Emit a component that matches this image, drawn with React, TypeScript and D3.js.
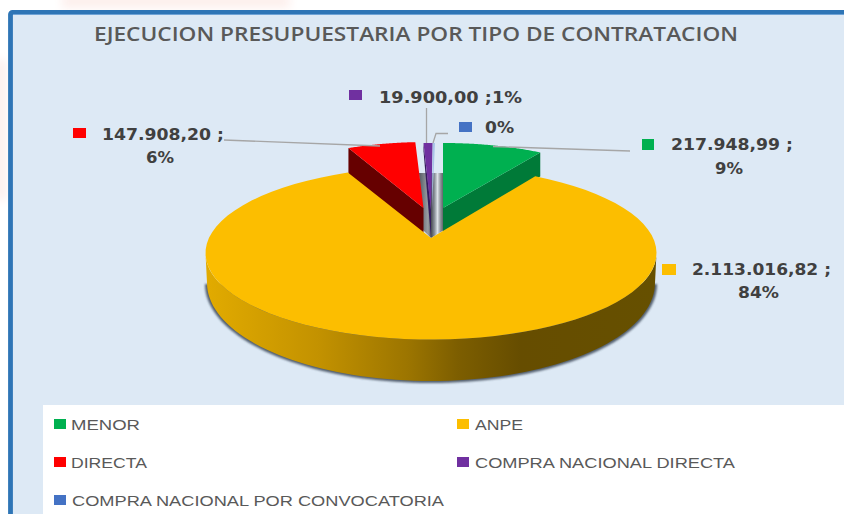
import React from "react";
import * as d3 from "d3";

// chart data
const categories = ["MENOR", "ANPE", "DIRECTA", "COMPRA NACIONAL DIRECTA", "COMPRA NACIONAL POR CONVOCATORIA"];
const amounts = [217948.99, 2113016.82, 147908.2, 19900, 5000];
const colors = ["#00B050", "#FCBE00", "#FF0000", "#7030A0", "#4472C4"];
const sideColors = ["#007A38", "#6A5000", "#660000", "#351B5E", "#A9C4E8"];

const title = "EJECUCION PRESUPUESTARIA POR TIPO DE CONTRATACION";

const width = 844;
const height = 514;
const rad = (deg: number) => (deg * Math.PI) / 180;

// each slice is exploded and foreshortened on its own
// ax/ay = tip of the wedge, cx/cy = centre of the rim ellipse
const sliceGeom = [
  { ax: 443, ay: 208, cx: 443, cy: 208, rx: 187, ry: 65, trim: [0, 0], depth: 24 },
  { ax: 431, ay: 238, cx: 431, cy: 253, rx: 225.5, ry: 86.5, trim: [-3.8, 3.2], depth: 0 },
  { ax: 423.5, ay: 208, cx: 427, cy: 208, rx: 187, ry: 66, trim: [0, 0], depth: 26 },
  { ax: 431, ay: 210, cx: 435, cy: 208, rx: 184, ry: 65, trim: [0, 0], depth: 28 },
  { ax: 432, ay: 208, cx: 435, cy: 208, rx: 184, ry: 65, trim: [0, 0], depth: 0 },
];

// label block for each slice
const labelGeom = [
  { sw: [642, 139, 12, 11], x: 671, w: 122, y: 150, px: 715, pw: 28, py: 174, mode: "two" },
  { sw: [662, 264, 14, 11], x: 692, w: 139, y: 275, px: 738, pw: 41, py: 298, mode: "two" },
  { sw: [73, 128, 13, 10], x: 102, w: 122, y: 140, px: 146, pw: 28, py: 163, mode: "two" },
  { sw: [349, 90, 13, 10], x: 379, w: 143, y: 103, px: 0, pw: 0, py: 0, mode: "inline" },
  { sw: [459, 122, 13, 10], x: 485, w: 29, y: 133, px: 0, pw: 0, py: 0, mode: "pct" },
];

const legendGeom = [
  { x: 54, y: 419, tx: 71, tw: 69, ty: 430 },
  { x: 457, y: 419, tx: 475, tw: 48, ty: 430 },
  { x: 54, y: 457, tx: 71, tw: 76, ty: 468 },
  { x: 457, y: 457, tx: 475, tw: 260, ty: 468 },
  { x: 54, y: 495, tx: 72, tw: 372, ty: 506 },
];

const leaders = [
  [[493, 146.5], [630, 151]],
  [[224, 140], [380, 146]],
  [[426.5, 108], [426.5, 143]],
  [[433, 143], [436, 133.5], [448, 133.5]],
];

const esLocale = d3.formatLocale({ decimal: ",", thousands: ".", grouping: [3], currency: ["", ""] });
const fmtAmount = esLocale.format(",.2f");
const fmtPct = d3.format(".0%");
const total = d3.sum(amounts);

const pie = d3.pie<number>().sort(null).value((d) => d);
const slices = pie(amounts);

const line = d3.line();

function rimPoint(g: (typeof sliceGeom)[number], a: number): [number, number] {
  return [g.cx + g.rx * Math.sin(a), g.cy - g.ry * Math.cos(a)];
}

function rimArc(g: (typeof sliceGeom)[number], a0: number, a1: number): [number, number][] {
  return d3.range(0, 81).map((i) => rimPoint(g, a0 + ((a1 - a0) * i) / 80));
}

function sliceAngles(i: number): [number, number] {
  const g = sliceGeom[i];
  return [slices[i].startAngle + rad(g.trim[0]), slices[i].endAngle + rad(g.trim[1])];
}

function topFace(i: number) {
  const g = sliceGeom[i];
  const [a0, a1] = sliceAngles(i);
  return line([[g.ax, g.ay], ...rimArc(g, a0, a1)]) + "Z";
}

// flat wall of a wedge, from the tip to one end of the rim
function sideWall(i: number, a: number, rimDepth: number, tipDepth: number) {
  const g = sliceGeom[i];
  const p = rimPoint(g, a);
  return line([[g.ax, g.ay], p, [p[0], p[1] + rimDepth], [g.ax, g.ay + tipDepth]]) + "Z";
}

// curved wall under the big slice, the lower edge is a second ellipse
const yellow = sliceGeom[1];
const yellowBase = { ...yellow, cx: 431, cy: 283, rx: 224, ry: 98 };
const yellowWall =
  line([
    ...rimArc(yellow, rad(90), rad(270)),
    ...rimArc(yellowBase, rad(270), rad(90)),
  ]) + "Z";
// shadow only hangs below the base, no need for the upper part
const yellowShadow = line(rimArc({ ...yellowBase, rx: 226, ry: 99 }, rad(90), rad(270))) + "Z";

const App = () => {
  return (
    <svg
      width={width}
      height={height}
      style={{ position: "absolute", left: 0, top: 0 }}
      viewBox={`0 0 ${width} ${height}`}
    >
      <defs>
        <linearGradient id="wallGrad" gradientUnits="userSpaceOnUse" x1="205" x2="656" y1="0" y2="0">
          <stop offset="0" stopColor="#E2AB00" />
          <stop offset="0.25" stopColor="#C39200" />
          <stop offset="0.45" stopColor="#9C7500" />
          <stop offset="0.56" stopColor="#7D5E00" />
          <stop offset="0.7" stopColor="#664D00" />
          <stop offset="1" stopColor="#665000" />
        </linearGradient>
        <linearGradient id="coreGrad" gradientUnits="userSpaceOnUse" x1="419" x2="444" y1="0" y2="0">
          <stop offset="0" stopColor="#555A62" />
          <stop offset="0.2" stopColor="#7C8188" />
          <stop offset="0.36" stopColor="#9A9EA4" />
          <stop offset="0.5" stopColor="#50545C" />
          <stop offset="0.62" stopColor="#8A9099" />
          <stop offset="0.74" stopColor="#DCE1E6" />
          <stop offset="0.86" stopColor="#8F949B" />
          <stop offset="1" stopColor="#4D5258" />
        </linearGradient>
        <filter id="soft" x="-10%" y="-20%" width="120%" height="140%">
          <feGaussianBlur stdDeviation="1.3" />
        </filter>
        <filter id="bgBlur" x="-20%" y="-20%" width="140%" height="140%">
          <feGaussianBlur stdDeviation="5" />
        </filter>
      </defs>

      {/* page behind the chart */}
      <rect width={width} height={height} fill="#fff" />
      <rect x={62} y={-6} width={228} height={14} fill="#FDEFEC" filter="url(#bgBlur)" />
      <rect x={-6} y={60} width={13} height={140} fill="#FDF0EE" filter="url(#bgBlur)" />

      {/* frame */}
      <rect x={10.5} y={12.3} width={width + 20} height={height + 20} rx={2} fill="#DDE9F5" stroke="#2E75B6" strokeWidth={4.8} />
      <line x1={13} x2={width} y1={14.5} y2={14.5} stroke="#6FA3D6" strokeWidth={1} />

      <text
        x={94}
        y={41}
        textLength={644}
        lengthAdjust="spacingAndGlyphs"
        fontFamily="'Open Sans', sans-serif"
        fontWeight={600}
        fontSize={19}
        fill="#595959"
      >
        {title}
      </text>

      {/* legend box */}
      <rect x={43} y={405} width={width - 43} height={height - 405} fill="#fff" />
      {categories.map((c, i) => {
        const l = legendGeom[i];
        return (
          <g key={c}>
            <rect x={l.x} y={l.y} width={12} height={10} fill={colors[i]} />
            <text
              x={l.tx}
              y={l.ty}
              textLength={l.tw}
              lengthAdjust="spacingAndGlyphs"
              fontFamily="'Liberation Sans', sans-serif"
              fontSize={15}
              fill="#595959"
            >
              {c}
            </text>
          </g>
        );
      })}

      {/* pie */}
      <path d={yellowShadow} fill="#3B4656" filter="url(#soft)" transform="translate(0,1)" opacity={0.85} />
      <path d="M419,173H444V230L431,238L423,230Z" fill="url(#coreGrad)" />

      <path d={sideWall(0, sliceAngles(0)[1], sliceGeom[0].depth, sliceGeom[0].depth)} fill={sideColors[0]} />
      <path d={topFace(0)} fill={colors[0]} />

      <path d={sideWall(2, sliceAngles(2)[0], sliceGeom[2].depth, sliceGeom[2].depth)} fill={sideColors[2]} />
      <path d={topFace(2)} fill={colors[2]} />

      <path d={sideWall(3, sliceAngles(3)[0], 8, sliceGeom[3].depth)} fill={sideColors[3]} />
      <path d={topFace(3)} fill={colors[3]} />
      <path d={topFace(4)} fill={sideColors[4]} />

      <path d={yellowWall} fill="url(#wallGrad)" />
      <path d={topFace(1)} fill={colors[1]} />

      {/* leader lines */}
      {leaders.map((pts, i) => (
        <path key={i} d={line(pts as [number, number][]) as string} fill="none" stroke="#A6A6A6" strokeWidth={1.3} />
      ))}

      {/* data labels */}
      {labelGeom.map((l, i) => {
        const amount = fmtAmount(amounts[i]);
        const pct = fmtPct(amounts[i] / total);
        const first = l.mode === "two" ? `${amount} ;` : l.mode === "inline" ? `${amount} ;${pct}` : pct;
        const textProps = {
          lengthAdjust: "spacingAndGlyphs",
          fontFamily: "'DejaVu Sans', sans-serif",
          fontWeight: 700,
          fontSize: 16,
          fill: "#404040",
        };
        return (
          <g key={categories[i]}>
            <rect x={l.sw[0]} y={l.sw[1]} width={l.sw[2]} height={l.sw[3]} fill={colors[i]} />
            <text x={l.x} y={l.y} textLength={l.w} {...textProps}>
              {first}
            </text>
            {l.mode === "two" && (
              <text x={l.px} y={l.py} textLength={l.pw} {...textProps}>
                {pct}
              </text>
            )}
          </g>
        );
      })}
    </svg>
  );
};

export default App;
